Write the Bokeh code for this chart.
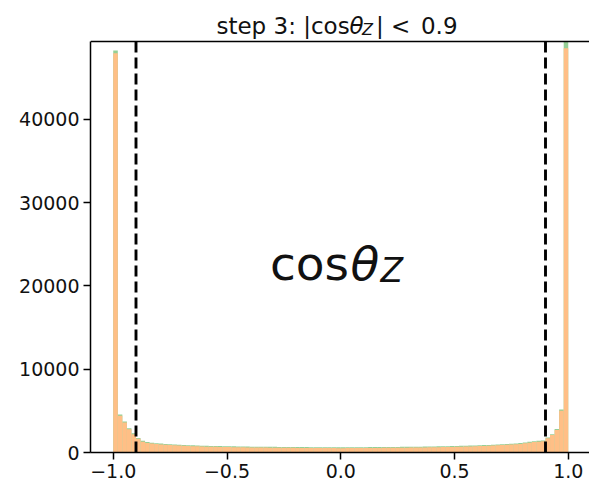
import numpy as np
from bokeh.plotting import figure
from bokeh.models import Label, FixedTicker, ColumnDataSource
from bokeh.embed import file_html
from bokeh.resources import INLINE

# ---- data ----
bin_lo, bin_hi, n_bins = -1.0, 1.0, 100
counts_before = [
    48250, 4550, 3720, 2910, 2300, 1750, 1400, 1250, 1180, 1120,
    1070, 1030, 990, 960, 930, 900, 880, 860, 840, 820,
    800, 790, 780, 770, 760, 750, 740, 730, 720, 710,
    700, 700, 690, 690, 680, 680, 670, 670, 660, 660,
    650, 650, 650, 640, 640, 640, 630, 630, 630, 620,
    620, 630, 630, 630, 640, 640, 650, 650, 650, 660,
    660, 670, 670, 680, 680, 690, 700, 700, 710, 720,
    730, 740, 750, 760, 770, 780, 800, 810, 830, 850,
    870, 890, 910, 930, 960, 990, 1020, 1050, 1090, 1130,
    1200, 1280, 1350, 1400, 1450, 1800, 2200, 2820, 5150, 49300,
]
counts_after = [
    47900, 4400, 3600, 2800, 2200, 1650, 1300, 1150, 1080, 1020,
    970, 930, 890, 860, 830, 800, 780, 760, 740, 720,
    700, 690, 680, 670, 660, 650, 640, 630, 620, 610,
    600, 600, 590, 590, 580, 580, 570, 570, 560, 560,
    550, 550, 550, 540, 540, 540, 530, 530, 530, 520,
    520, 530, 530, 530, 540, 540, 550, 550, 550, 560,
    560, 570, 570, 580, 580, 590, 600, 600, 610, 620,
    630, 640, 650, 660, 670, 680, 700, 710, 730, 750,
    770, 790, 810, 830, 860, 890, 920, 950, 990, 1030,
    1100, 1180, 1250, 1300, 1350, 1700, 2100, 2700, 5000, 48500,
]
cut_values = [-0.9, 0.9]
x_ticks = [-1.0, -0.5, 0.0, 0.5, 1.0]
x_tick_labels = ["\u22121.0", "\u22120.5", "0.0", "0.5", "1.0"]
y_ticks = [0, 10000, 20000, 30000, 40000]
y_tick_labels = ["0", "10000", "20000", "30000", "40000"]

edges = np.linspace(bin_lo, bin_hi, n_bins + 1)
src_before = ColumnDataSource(dict(left=edges[:-1], right=edges[1:], top=counts_before))
src_after = ColumnDataSource(dict(left=edges[:-1], right=edges[1:], top=counts_after))

FONT = "DejaVu Sans"
X0, X1 = -1.1, 1.0934
Y_TOP = 49320
Y_CANVAS = 49320 + 41 * 120

p = figure(width=589, height=484, x_range=(X0, X1), y_range=(0, Y_CANVAS),
           output_backend="svg", toolbar_location=None,
           min_border_left=90, min_border_right=0, min_border_top=0, min_border_bottom=32)
p.background_fill_color = "white"
p.border_fill_color = "white"
p.outline_line_color = None
p.xgrid.visible = False
p.ygrid.visible = False

p.quad(left="left", right="right", top="top", bottom=0, source=src_before,
       fill_color="#95cf95", line_color=None)
p.quad(left="left", right="right", top="top", bottom=0, source=src_after,
       fill_color="#ffbf86", line_color=None)

p.segment(x0=cut_values, x1=cut_values, y0=[0, 0], y1=[Y_TOP, Y_TOP],
          line_color="black", line_width=2.9, line_dash="11 5")
# top spine
p.quad(left=[X0], right=[X1], bottom=[Y_TOP - 90], top=[Y_TOP + 90],
       fill_color="black", line_color=None)

for ax in (p.xaxis[0], p.yaxis[0]):
    ax.axis_line_color = "black"
    ax.axis_line_width = 1.5
    ax.major_tick_line_color = "black"
    ax.major_tick_line_width = 1.5
    ax.major_tick_out = 7
    ax.major_tick_in = 0
    ax.minor_tick_line_color = None
    ax.major_label_text_font = FONT
    ax.major_label_text_font_size = "19px"
    ax.major_label_text_color = "#111111"
    ax.major_label_standoff = 4

p.yaxis.bounds = (0, Y_TOP)
p.xaxis.ticker = FixedTicker(ticks=x_ticks)
p.xaxis.major_label_overrides = {t: l for t, l in zip(x_ticks, x_tick_labels)}
p.yaxis.ticker = FixedTicker(ticks=y_ticks)
p.yaxis.major_label_overrides = {t: l for t, l in zip(y_ticks, y_tick_labels)}


def xd(px):
    return -1.0 + (px - 113.3) / 227.5


def yd(py):
    return (451.7 - py) * 120.0


def lab(text, px, py, size, italic=False):
    p.add_layout(Label(x=xd(px), y=yd(py), text=text, text_font=FONT,
                       text_font_size=size, text_color="#111111",
                       text_font_style="italic" if italic else "normal",
                       text_align="left", text_baseline="alphabetic"))


# title: step 3: |cosθ_Z| < 0.9
lab("step 3: |cos", 216.5, 25, "23px")
lab("\u03b8", 349.5, 25, "23px", italic=True)
lab("Z", 362, 29, "16px", italic=True)
lab("|", 376, 25, "23px")
lab("<", 391, 25, "23px")
lab("0.9", 421, 25, "23px")

# big label: cosθ_Z
lab("cos", 270, 263, "47px")
lab("\u03b8", 350.5, 263, "47px", italic=True)
lab("Z", 380.5, 270, "33px", italic=True)

open("out.html", "w").write(file_html(p, INLINE))
